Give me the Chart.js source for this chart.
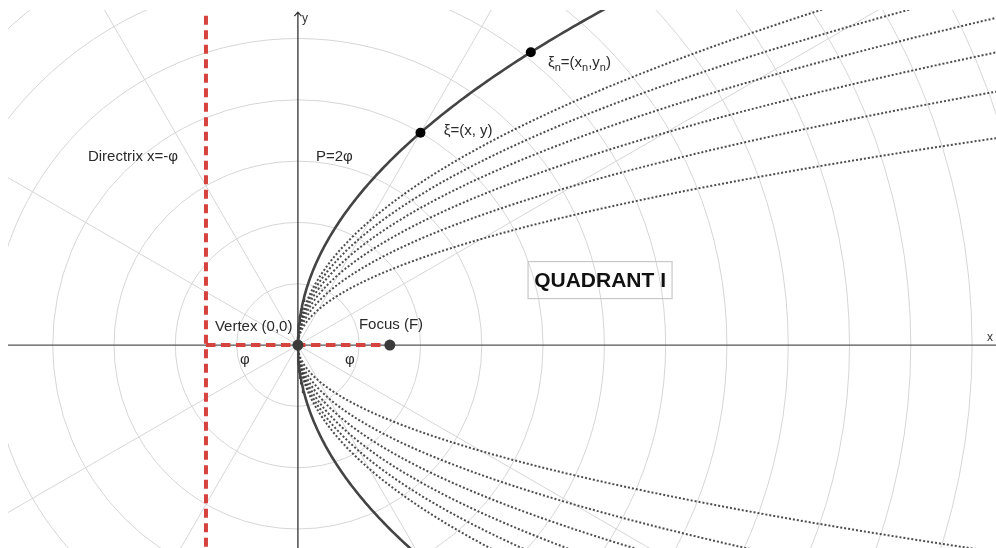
<!DOCTYPE html>
<html>
<head>
<meta charset="utf-8">
<title>Parabola y² = 4φx</title>
<script src="https://cdn.jsdelivr.net/npm/chart.js@4.4.1/dist/chart.umd.min.js"></script>
<style>
    html, body { margin: 0; padding: 0; background: #fff; }
    #parabolaChart { display: block; }
</style>
</head>
<body>
<canvas id="parabolaChart" width="996" height="548"></canvas>
<script>
// focal distance φ, the parabola is y² = 4φx
const focusDistance = 1.5;
// coefficients k of the dotted family y² = kx
const upperCoefficients = [1, 1.5, 2, 2.5, 3, 3.5];
const lowerCoefficients = [1, 1.5, 2, 2.5, 3, 3.5];
// marked points on the parabola (x values)
const pointXi = 2;
const pointXiN = 3.8;
// polar grid
const ringRadii = [1, 2, 3, 4, 5, 6, 7, 8, 9, 10, 11, 12, 13, 14, 15, 16, 17, 18];
const rayAngles = [30, 60, 120, 150, 210, 240, 300, 330];
// visible window
const xLimits = [-4.73, 11.39];
const yLimits = [-3.31, 5.465];

function sampleBranch(k, yFrom, yTo, steps) {
    const pts = [];
    for (let i = 0; i <= steps; i++) {
        const y = yFrom + (yTo - yFrom) * i / steps;
        pts.push({ x: y * y / k, y: y });
    }
    return pts;
}

const dotted = {
    showLine: true,
    pointRadius: 0,
    borderColor: 'rgba(58, 58, 58, 0.9)',
    borderWidth: 2,
    borderDash: [2, 2],
    tension: 0,
    clip: 0,
    order: 5
};

const datasets = [];

// marked points
datasets.push({
    data: [{ x: 0, y: 0 }, { x: focusDistance, y: 0 }],
    pointRadius: 5.5,
    pointBackgroundColor: '#3a3a3a',
    pointBorderWidth: 0,
    showLine: false,
    order: 0
});
datasets.push({
    data: [
        { x: pointXi, y: Math.sqrt(4 * focusDistance * pointXi) },
        { x: pointXiN, y: Math.sqrt(4 * focusDistance * pointXiN) }
    ],
    pointRadius: 5,
    pointBackgroundColor: '#000',
    pointBorderWidth: 0,
    showLine: false,
    order: 0
});

// directrix and vertex-focus segment
datasets.push({
    data: [{ x: -focusDistance, y: -4 }, { x: -focusDistance, y: 5.43 }],
    showLine: true, pointRadius: 0,
    borderColor: 'rgb(214, 66, 62)', borderWidth: 4, borderDash: [9, 5.5],
    clip: 0, order: 1
});
datasets.push({
    data: [{ x: -focusDistance, y: 0 }, { x: focusDistance, y: 0 }],
    showLine: true, pointRadius: 0,
    borderColor: 'rgb(214, 66, 62)', borderWidth: 4, borderDash: [9.5, 5.5],
    clip: 0, order: 1
});

// the parabola
datasets.push({
    data: sampleBranch(4 * focusDistance, -3.6, 5.7, 200),
    showLine: true, pointRadius: 0,
    borderColor: '#444', borderWidth: 2.6, tension: 0,
    clip: 0, order: 2
});

upperCoefficients.forEach(k => {
    datasets.push(Object.assign({ data: sampleBranch(k, 0, Math.sqrt(k * 12), 160) }, dotted));
});
lowerCoefficients.forEach(k => {
    datasets.push(Object.assign({ data: sampleBranch(k, 0, -Math.sqrt(k * 12), 160) }, dotted));
});

const polarGrid = {
    id: 'polarGrid',
    beforeDatasetsDraw(chart) {
        const { ctx, chartArea, scales: { x, y } } = chart;
        const ox = x.getPixelForValue(0);
        const oy = y.getPixelForValue(0);
        const ux = x.getPixelForValue(1) - ox;
        const uy = oy - y.getPixelForValue(1);

        ctx.save();
        ctx.beginPath();
        ctx.rect(chartArea.left, chartArea.top, chartArea.right - chartArea.left, chartArea.bottom - chartArea.top);
        ctx.clip();

        ctx.strokeStyle = 'rgb(214, 214, 214)';
        ctx.lineWidth = 1;
        ringRadii.forEach(r => {
            ctx.beginPath();
            ctx.ellipse(ox, oy, r * ux, r * uy, 0, 0, Math.PI * 2);
            ctx.stroke();
        });
        rayAngles.forEach(a => {
            const t = a * Math.PI / 180;
            ctx.beginPath();
            ctx.moveTo(ox, oy);
            ctx.lineTo(ox + Math.cos(t) * 30 * ux, oy - Math.sin(t) * 30 * uy);
            ctx.stroke();
        });

        // axes
        ctx.strokeStyle = '#555';
        ctx.lineWidth = 1.3;
        ctx.beginPath();
        ctx.moveTo(chartArea.left, oy);
        ctx.lineTo(chartArea.right, oy);
        ctx.stroke();

        const top = y.getPixelForValue(5.43);
        ctx.strokeStyle = '#333';
        ctx.beginPath();
        ctx.moveTo(ox, chartArea.bottom);
        ctx.lineTo(ox, top);
        ctx.moveTo(ox - 3.5, top + 4);
        ctx.lineTo(ox, top);
        ctx.lineTo(ox + 3.5, top + 4);
        ctx.stroke();

        ctx.fillStyle = '#333';
        ctx.font = '12px "Liberation Sans", Arial, sans-serif';
        ctx.textBaseline = 'middle';
        ctx.textAlign = 'left';
        ctx.fillText('y', ox + 4, top + 7);
        ctx.fillText('x', chartArea.right - 9, oy - 7);
        ctx.restore();
    },
    afterDatasetsDraw(chart) {
        const { ctx, scales: { x, y } } = chart;
        const px = v => x.getPixelForValue(v);
        const py = v => y.getPixelForValue(v);
        const font = '15px "Liberation Sans", Arial, sans-serif';
        const small = '11px "Liberation Sans", Arial, sans-serif';

        ctx.save();
        ctx.fillStyle = '#2a2a2a';
        ctx.font = font;
        ctx.textBaseline = 'middle';
        ctx.textAlign = 'left';

        ctx.fillText('Directrix x=-φ', px(-3.426), py(3.067));
        ctx.fillText('P=2φ', px(0.294), py(3.067));
        ctx.fillText('ξ=(x, y)', px(2.38), py(3.49));
        ctx.fillText('Vertex (0,0)', px(-1.354), py(0.294));
        ctx.fillText('Focus (F)', px(0.995), py(0.326));

        ctx.textAlign = 'center';
        ctx.fillText('φ', px(-0.865), py(-0.245));
        ctx.fillText('φ', px(0.848), py(-0.245));

        // ξn=(xn,yn) with subscripts
        ctx.textAlign = 'left';
        let cx = px(4.08);
        const cy = py(4.6);
        const parts = [['ξ', 0], ['n', 1], ['=(x', 0], ['n', 1], [',y', 0], ['n', 1], [')', 0]];
        parts.forEach(([s, sub]) => {
            ctx.font = sub ? small : font;
            ctx.fillText(s, cx, sub ? cy + 5 : cy);
            cx += ctx.measureText(s).width;
        });

        // quadrant caption in a box
        const qx = px(4.93);
        const qy = py(1.06);
        ctx.font = 'bold 21px "Liberation Sans", Arial, sans-serif';
        ctx.textAlign = 'center';
        ctx.fillStyle = '#111';
        ctx.fillText('QUADRANT I', qx, qy + 1);
        ctx.strokeStyle = 'rgb(200, 200, 200)';
        ctx.lineWidth = 1.2;
        ctx.strokeRect(qx - 72, qy - 18.5, 144, 37);
        ctx.restore();
    }
};

new Chart(document.getElementById('parabolaChart'), {
    type: 'scatter',
    data: { datasets: datasets },
    options: {
        responsive: false,
        animation: false,
        devicePixelRatio: 1,
        layout: { autoPadding: false, padding: { left: 8, top: 10, right: 0, bottom: 0 } },
        plugins: { legend: { display: false }, tooltip: { enabled: false } },
        scales: {
            x: { type: 'linear', min: xLimits[0], max: xLimits[1], display: false },
            y: { type: 'linear', min: yLimits[0], max: yLimits[1], display: false }
        }
    },
    plugins: [polarGrid]
});
</script>
</body>
</html>
